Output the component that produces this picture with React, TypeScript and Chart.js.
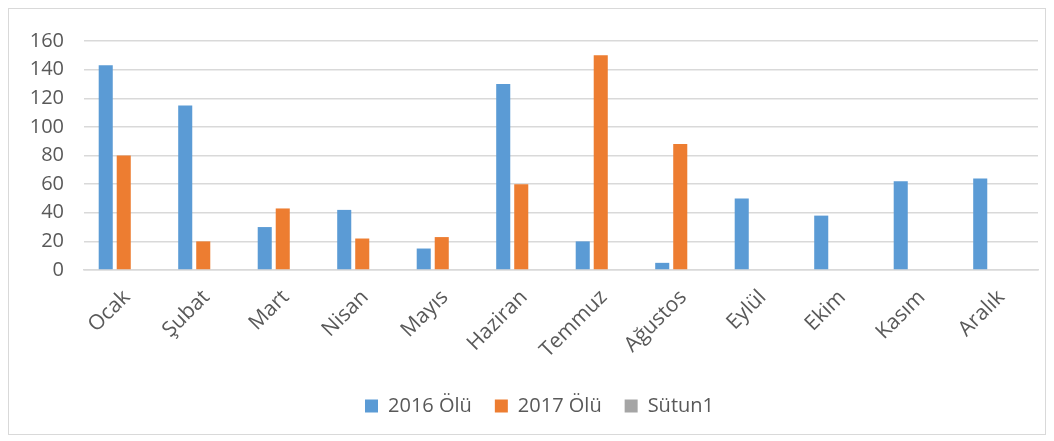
import React, { useEffect, useRef } from "react";
import { Chart, registerables } from "chart.js";

Chart.register(...registerables);

const categories = ["Ocak", "Şubat", "Mart", "Nisan", "Mayıs", "Haziran", "Temmuz", "Ağustos", "Eylül", "Ekim", "Kasım", "Aralık"];
const olu2016 = [143, 115, 30, 42, 15, 130, 20, 5, 50, 38, 62, 64];
const olu2017 = [80, 20, 43, 22, 23, 60, 150, 88, null, null, null, null];
const sutun1 = [null, null, null, null, null, null, null, null, null, null, null, null];
const yTicks = [0, 20, 40, 60, 80, 100, 120, 140, 160];

const FONT = "'Open Sans', 'Noto Sans', sans-serif";
const TEXT = "#595959";

const legendShift = {
  id: "legendShift",
  afterLayout(chart: any) {
    if (chart.legend) {
      chart.legend.left += 16;
      chart.legend.right += 16;
    }
  },
};

export default function App() {
  const ref = useRef<HTMLCanvasElement | null>(null);
  useEffect(() => {
    if (!ref.current) return;
    const chart = new Chart(ref.current, {
      type: "bar",
      data: {
        labels: categories,
        datasets: [
          { label: "2016 Ölü", data: olu2016, backgroundColor: "#5B9BD5" },
          { label: "2017 Ölü", data: olu2017, backgroundColor: "#ED7D31" },
          { label: "Sütun1", data: sutun1, backgroundColor: "#A5A5A5" },
        ],
      },
      plugins: [legendShift],
      options: {
        animation: false,
        responsive: false,
        maintainAspectRatio: false,
        datasets: { bar: { categoryPercentage: 0.68, barPercentage: 0.78 } },
        layout: { padding: { top: 18, right: 7, left: 0, bottom: 8 } },
        plugins: {
          tooltip: { enabled: false },
          legend: {
            position: "bottom",
            labels: {
              boxWidth: 13,
              boxHeight: 13,
              color: TEXT,
              font: { family: FONT, size: 20 },
              padding: 23,
            },
          },
        },
        scales: {
          x: {
            grid: { display: false, drawTicks: false },
            border: { display: true, color: "#d9d9d9", width: 1.5 },
            afterFit: (scale: any) => {
              scale.height = 103;
            },
            ticks: {
              color: TEXT,
              font: { family: FONT, size: 21 },
              minRotation: 45,
              maxRotation: 45,
              padding: 15,
              labelOffset: 3,
            },
          },
          y: {
            min: 0,
            max: 160,
            afterBuildTicks: (scale: any) => {
              scale.ticks = yTicks.map((v) => ({ value: v }));
            },
            afterFit: (scale: any) => {
              scale.width = 75;
            },
            grid: { color: "#d9d9d9", lineWidth: 1.5, drawTicks: false },
            border: { display: false },
            ticks: {
              color: TEXT,
              font: { family: FONT, size: 20 },
              padding: 20,
            },
          },
        },
      },
    });
    return () => chart.destroy();
  }, []);
  return (
    <div
      style={{
        width: 1038,
        height: 427,
        border: "1px solid #d9d9d9",
        boxSizing: "border-box",
        background: "#fff",
      }}
    >
      <canvas ref={ref} width={1036} height={425} style={{ display: "block" }} />
    </div>
  );
}
